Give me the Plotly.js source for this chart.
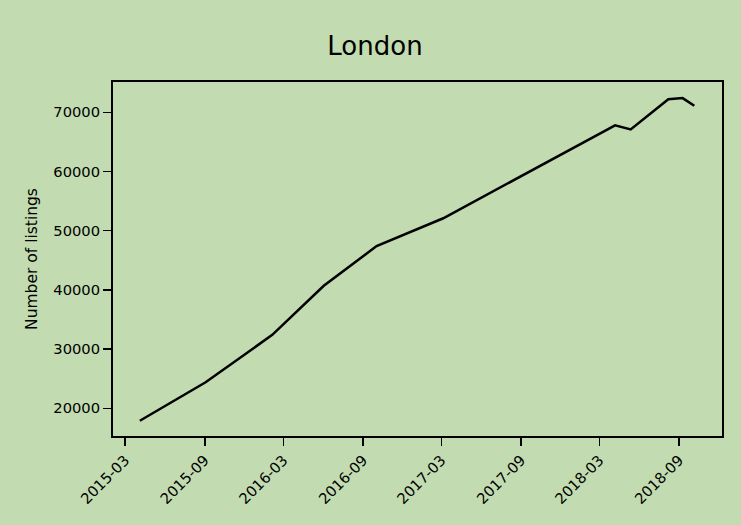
<!DOCTYPE html>
<html>
<head>
<meta charset="utf-8">
<script src="https://cdn.plot.ly/plotly-3.0.1.min.js"></script>
<style>html,body{margin:0;padding:0;background:#c2dbb1;}#chart{width:741px;height:525px;}</style>
</head>
<body>
<div id="chart"></div>
<script>
const dates = ["2015-04-04","2015-09-03","2016-02-04","2016-06-02","2016-10-02","2017-03-05","2018-04-06","2018-05-12","2018-08-07","2018-09-09","2018-10-06"];
const listings = [17900,24400,32400,40700,47400,52100,67800,67100,72200,72400,71100];
const xTickLabels = ["2015-03","2015-09","2016-03","2016-09","2017-03","2017-09","2018-03","2018-09"];
const xTickVals = xTickLabels.map(s => s + "-01");
const yTickVals = [20000,30000,40000,50000,60000,70000];

const bg = "#c2dbb1";
const font = "'DejaVu Sans', sans-serif";
const tf = {family: font, size: 14.7, color: "#000"};
Plotly.newPlot("chart", [{
  x: dates, y: listings, type: "scatter", mode: "lines",
  line: {color: "#000000", width: 2.5}, hoverinfo: "skip"
}], {
  width: 741, height: 525,
  paper_bgcolor: bg, plot_bgcolor: bg,
  margin: {l: 113, r: 19, t: 82, b: 89},
  showlegend: false,
  font: {family: font, color: "#000", size: 14.7},
  title: {text: "London", x: 375/741, xanchor: "center", y: 1 - 46/525, yanchor: "middle", font: {family: font, size: 26, color: "#000"}},
  xaxis: {
    type: "date", range: ["2015-02-01", "2018-12-09"],
    tickmode: "array", tickvals: xTickVals, ticktext: xTickLabels, tickangle: -45,
    ticks: "outside", ticklen: 8, tickwidth: 1.5, tickcolor: "#000",
    showline: true, linecolor: "#000", linewidth: 2, mirror: true,
    showgrid: false, zeroline: false, tickfont: tf
  },
  yaxis: {
    range: [15320, 75120],
    tickmode: "array", tickvals: yTickVals, ticktext: yTickVals.map(String),
    ticks: "outside", ticklen: 8, tickwidth: 1.5, tickcolor: "#000",
    showline: true, linecolor: "#000", linewidth: 2, mirror: true,
    showgrid: false, zeroline: false, tickfont: tf,
    title: {text: "Number of listings", font: {family: font, size: 15.5, color: "#000"}, standoff: 12}
  }
}, {displayModeBar: false, staticPlot: true});
</script>
</body>
</html>
